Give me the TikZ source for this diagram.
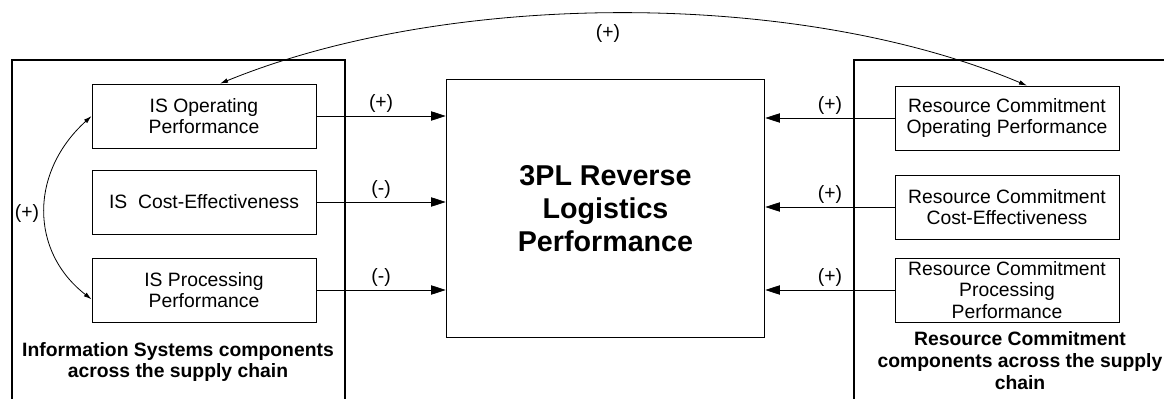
\documentclass[tikz,border=0pt]{standalone}
\usepackage{fontspec}
\setmainfont{Liberation Sans}
\usepackage{tikz}
\usetikzlibrary{arrows.meta, calc}

\tikzset{
  comp/.style={draw, line width=0.6pt, minimum width=168pt, minimum height=48pt,
               inner sep=0pt, align=center, font=\fontsize{14.5}{16}\selectfont},
  frame/.style={line width=2.2pt},
  sign/.style={font=\fontsize{14.5}{16}\selectfont, inner sep=2pt},
  effect/.style={line width=0.6pt, -{Triangle[length=11pt,width=7pt]}},
  link/.style={line width=0.6pt, {Latex[length=6pt,width=3.5pt]}-{Latex[length=6pt,width=3.5pt]}}
}

\begin{document}
\begin{tikzpicture}[x=0.75pt, y=-0.75pt]
  \useasboundingbox (0,0) rectangle (1164,399);
  % group frames
  \draw[frame] (12,410) |- (345,60) -- (345,410);
  \draw[frame] (854,410) |- (1175,60);
  % centre
  \node[draw, line width=0.6pt, minimum width=239pt, minimum height=193pt, align=center,
        font=\fontsize{21.5}{25}\selectfont\bfseries] (core) at (605.5,208.5)
        {3PL Reverse\\Logistics\\Performance};
  % information systems side
  \node[comp] (isop)   at (204,116) {IS Operating\\Performance};
  \node[comp] (iscost) at (204,202) {IS\ \ Cost-Effectiveness};
  \node[comp] (isproc) at (204,290) {IS Processing\\Performance};
  \node[align=center, font=\fontsize{14.5}{16.5}\selectfont\bfseries] (isgroup) at (178,362)
        {Information Systems components\\across the supply chain};
  % resource commitment side
  \node[comp] (rcop)   at (1007,118) {Resource Commitment\\Operating Performance};
  \node[comp] (rccost) at (1007,207) {Resource Commitment\\Cost-Effectiveness};
  \node[comp] (rcproc) at (1007,290) {Resource Commitment\\Processing\\Performance};
  \node[align=center, font=\fontsize{14.5}{16.5}\selectfont\bfseries] (rcgroup) at (1020,361)
        {Resource Commitment\\components across the supply\\chain};
  % effects on performance
  \draw[effect] (isop.east)   -- (isop.east -| core.west)   node[sign, midway, above] {(+)};
  \draw[effect] (iscost.east) -- (iscost.east -| core.west) node[sign, midway, above] {(-)};
  \draw[effect] (isproc.east) -- (isproc.east -| core.west) node[sign, midway, above] {(-)};
  \draw[effect] (rcop.west)   -- (rcop.west -| core.east)   node[sign, midway, above] {(+)};
  \draw[effect] (rccost.west) -- (rccost.west -| core.east) node[sign, midway, above] {(+)};
  \draw[effect] (rcproc.west) -- (rcproc.west -| core.east) node[sign, midway, above] {(+)};
  % correlations
  \draw[link] ([xshift=12pt]isop.north) .. controls +(230,-94) and +(-227,-96) .. ([xshift=15pt]rcop.north);
  \node[sign] (toplink) at (608,33) {(+)};
  \draw[link] (isop.west) .. controls +(-62,56) and +(-62,-48) .. ([yshift=-7pt]isproc.west);
  \node[sign] (leftlink) at (27,213) {(+)};
\end{tikzpicture}
\end{document}
